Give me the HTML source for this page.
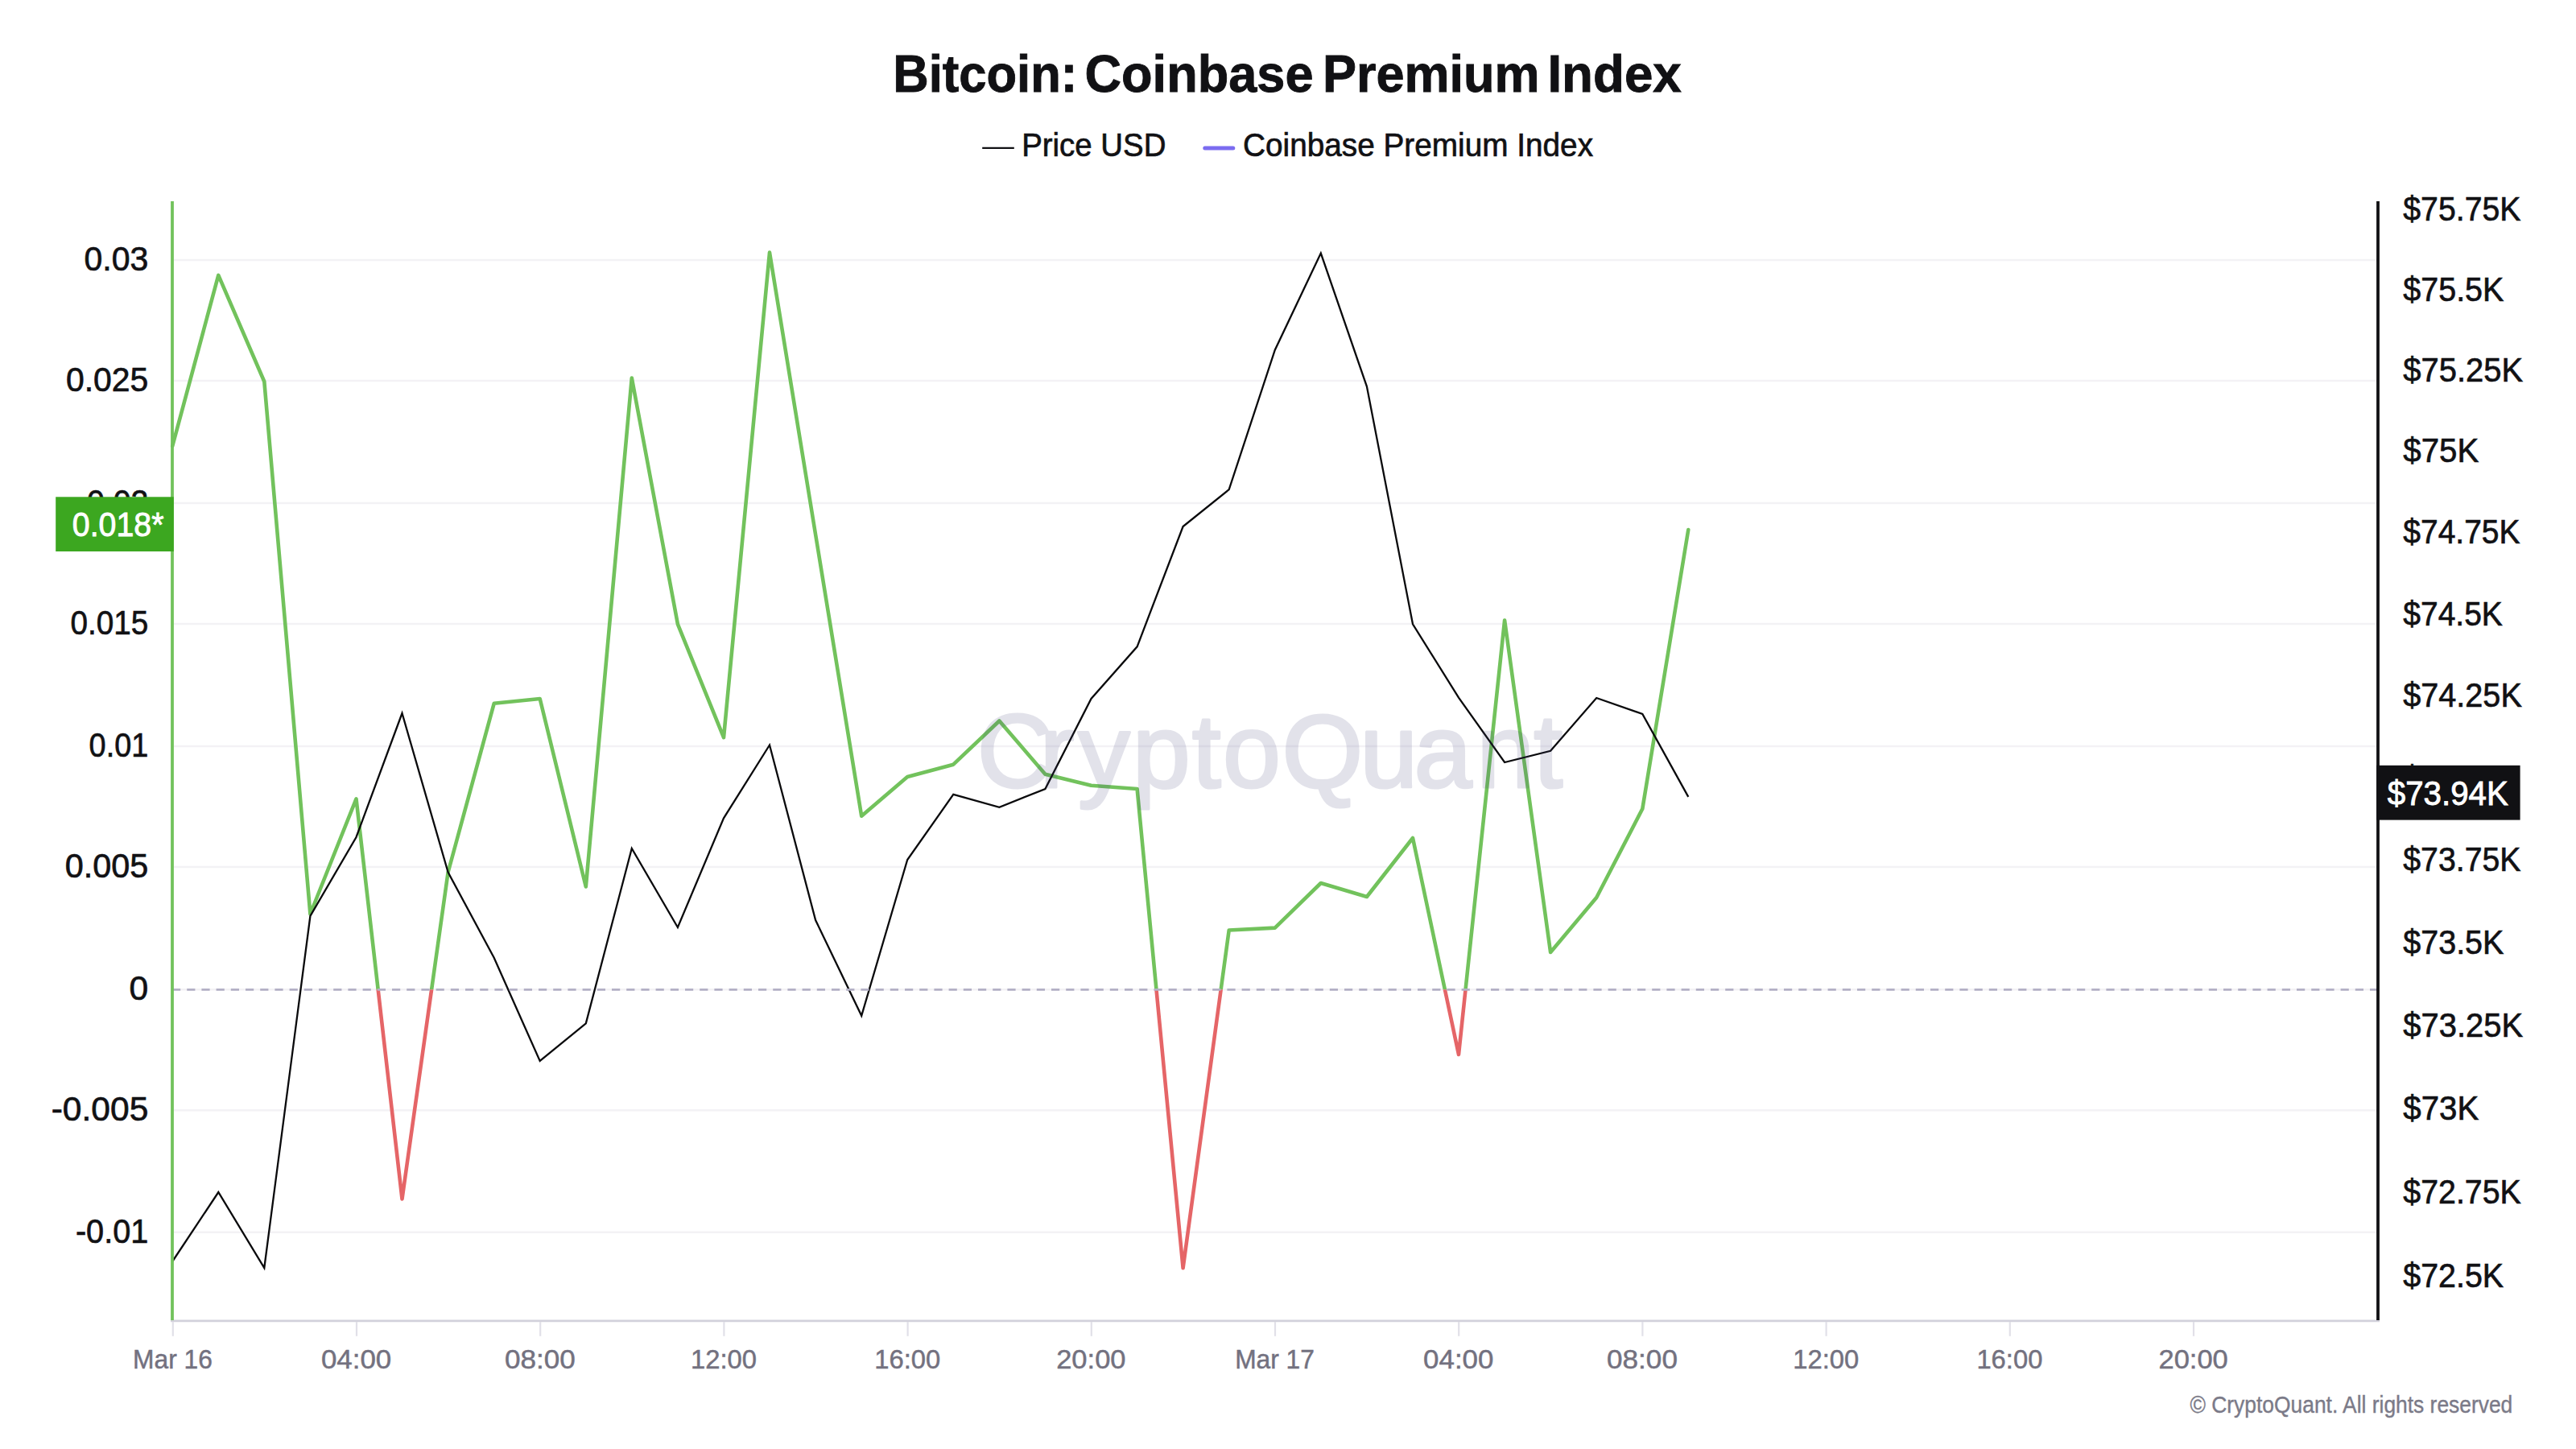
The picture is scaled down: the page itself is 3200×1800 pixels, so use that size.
<!DOCTYPE html>
<html lang="en"><head><meta charset="utf-8"><title>Bitcoin: Coinbase Premium Index</title>
<style>
html,body{margin:0;padding:0;background:#fff;}
body{width:3200px;height:1800px;overflow:hidden;font-family:"Liberation Sans",Arial,sans-serif;}
svg{display:block}
text{font-family:"Liberation Sans",Arial,sans-serif;}
</style></head><body>
<svg width="3200" height="1800" viewBox="0 0 3200 1800">
<rect width="3200" height="1800" fill="#ffffff"/>
<defs>
<clipPath id="above"><rect x="0" y="0" width="3200" height="1229.2"/></clipPath>
<clipPath id="below"><rect x="0" y="1229.2" width="3200" height="600"/></clipPath>
</defs>
<line x1="216" x2="2952" y1="323.0" y2="323.0" stroke="#f3f2f5" stroke-width="2.5"/>
<line x1="216" x2="2952" y1="473.0" y2="473.0" stroke="#f3f2f5" stroke-width="2.5"/>
<line x1="216" x2="2952" y1="625.0" y2="625.0" stroke="#f3f2f5" stroke-width="2.5"/>
<line x1="216" x2="2952" y1="775.0" y2="775.0" stroke="#f3f2f5" stroke-width="2.5"/>
<line x1="216" x2="2952" y1="927.0" y2="927.0" stroke="#f3f2f5" stroke-width="2.5"/>
<line x1="216" x2="2952" y1="1077.0" y2="1077.0" stroke="#f3f2f5" stroke-width="2.5"/>
<line x1="216" x2="2952" y1="1229.2" y2="1229.2" stroke="#f3f2f5" stroke-width="2.5"/>
<line x1="216" x2="2952" y1="1379.2" y2="1379.2" stroke="#f3f2f5" stroke-width="2.5"/>
<line x1="216" x2="2952" y1="1530.8" y2="1530.8" stroke="#f3f2f5" stroke-width="2.5"/>
<text y="113.9" font-size="64.9" fill="#111114" font-weight="bold" stroke="#111114" stroke-width="0.9"><tspan x="1109.3" textLength="228.9" lengthAdjust="spacingAndGlyphs">Bitcoin:</tspan> <tspan x="1347.5" textLength="284.0" lengthAdjust="spacingAndGlyphs">Coinbase</tspan> <tspan x="1642.9" textLength="269.7" lengthAdjust="spacingAndGlyphs">Premium</tspan> <tspan x="1922.4" textLength="166.4" lengthAdjust="spacingAndGlyphs">Index</tspan></text>
<line x1="1220.2" x2="1259.8" y1="183.9" y2="183.9" stroke="#111114" stroke-width="2.4"/>
<text x="1269.2" y="193.9" font-size="41.2" fill="#111114" text-anchor="start" font-weight="normal" textLength="179.2" lengthAdjust="spacingAndGlyphs" stroke="#111114" stroke-width="0.7">Price USD</text>
<line x1="1496.8" x2="1531.8" y1="183.9" y2="183.9" stroke="#7b6cf0" stroke-width="5" stroke-linecap="round"/>
<text x="1544" y="193.9" font-size="41.2" fill="#111114" text-anchor="start" font-weight="normal" textLength="435" lengthAdjust="spacingAndGlyphs" stroke="#111114" stroke-width="0.7">Coinbase Premium Index</text>
<text x="104.5" y="336.2" font-size="42.2" fill="#111114" text-anchor="start" font-weight="normal" textLength="79.8" lengthAdjust="spacingAndGlyphs" stroke="#111114" stroke-width="0.7">0.03</text>
<text x="81.9" y="486.2" font-size="42.2" fill="#111114" text-anchor="start" font-weight="normal" textLength="102.4" lengthAdjust="spacingAndGlyphs" stroke="#111114" stroke-width="0.7">0.025</text>
<text x="107.9" y="638.1" font-size="42.2" fill="#111114" text-anchor="start" font-weight="normal" textLength="76.4" lengthAdjust="spacingAndGlyphs" stroke="#111114" stroke-width="0.7">0.02</text>
<text x="87.5" y="788.1" font-size="42.2" fill="#111114" text-anchor="start" font-weight="normal" textLength="96.8" lengthAdjust="spacingAndGlyphs" stroke="#111114" stroke-width="0.7">0.015</text>
<text x="110.6" y="940.1" font-size="42.2" fill="#111114" text-anchor="start" font-weight="normal" textLength="73.7" lengthAdjust="spacingAndGlyphs" stroke="#111114" stroke-width="0.7">0.01</text>
<text x="80.8" y="1090.1" font-size="42.2" fill="#111114" text-anchor="start" font-weight="normal" textLength="103.5" lengthAdjust="spacingAndGlyphs" stroke="#111114" stroke-width="0.7">0.005</text>
<text x="160.6" y="1242.3" font-size="42.2" fill="#111114" text-anchor="start" font-weight="normal" textLength="23.7" lengthAdjust="spacingAndGlyphs" stroke="#111114" stroke-width="0.7">0</text>
<text x="63.7" y="1392.3" font-size="42.2" fill="#111114" text-anchor="start" font-weight="normal" textLength="120.6" lengthAdjust="spacingAndGlyphs" stroke="#111114" stroke-width="0.7">-0.005</text>
<text x="93.9" y="1543.9" font-size="42.2" fill="#111114" text-anchor="start" font-weight="normal" textLength="90.4" lengthAdjust="spacingAndGlyphs" stroke="#111114" stroke-width="0.7">-0.01</text>
<text x="2985.3" y="273.8" font-size="42.2" fill="#111114" text-anchor="start" font-weight="normal" textLength="146.2" lengthAdjust="spacingAndGlyphs" stroke="#111114" stroke-width="0.7">$75.75K</text>
<text x="2985.3" y="373.6" font-size="42.2" fill="#111114" text-anchor="start" font-weight="normal" textLength="125.1" lengthAdjust="spacingAndGlyphs" stroke="#111114" stroke-width="0.7">$75.5K</text>
<text x="2985.3" y="473.9" font-size="42.2" fill="#111114" text-anchor="start" font-weight="normal" textLength="148.8" lengthAdjust="spacingAndGlyphs" stroke="#111114" stroke-width="0.7">$75.25K</text>
<text x="2985.3" y="574.4" font-size="42.2" fill="#111114" text-anchor="start" font-weight="normal" textLength="93.9" lengthAdjust="spacingAndGlyphs" stroke="#111114" stroke-width="0.7">$75K</text>
<text x="2985.3" y="675.3" font-size="42.2" fill="#111114" text-anchor="start" font-weight="normal" textLength="145.2" lengthAdjust="spacingAndGlyphs" stroke="#111114" stroke-width="0.7">$74.75K</text>
<text x="2985.3" y="776.5" font-size="42.2" fill="#111114" text-anchor="start" font-weight="normal" textLength="123.5" lengthAdjust="spacingAndGlyphs" stroke="#111114" stroke-width="0.7">$74.5K</text>
<text x="2985.3" y="878.1" font-size="42.2" fill="#111114" text-anchor="start" font-weight="normal" textLength="147.5" lengthAdjust="spacingAndGlyphs" stroke="#111114" stroke-width="0.7">$74.25K</text>
<text x="2985.3" y="980.9" font-size="42.2" fill="#111114" text-anchor="start" font-weight="normal" textLength="92.6" lengthAdjust="spacingAndGlyphs" stroke="#111114" stroke-width="0.7">$74K</text>
<text x="2985.3" y="1082.2" font-size="42.2" fill="#111114" text-anchor="start" font-weight="normal" textLength="146.2" lengthAdjust="spacingAndGlyphs" stroke="#111114" stroke-width="0.7">$73.75K</text>
<text x="2985.3" y="1184.8" font-size="42.2" fill="#111114" text-anchor="start" font-weight="normal" textLength="125.1" lengthAdjust="spacingAndGlyphs" stroke="#111114" stroke-width="0.7">$73.5K</text>
<text x="2985.3" y="1287.8" font-size="42.2" fill="#111114" text-anchor="start" font-weight="normal" textLength="148.8" lengthAdjust="spacingAndGlyphs" stroke="#111114" stroke-width="0.7">$73.25K</text>
<text x="2985.3" y="1391.1" font-size="42.2" fill="#111114" text-anchor="start" font-weight="normal" textLength="93.9" lengthAdjust="spacingAndGlyphs" stroke="#111114" stroke-width="0.7">$73K</text>
<text x="2985.3" y="1494.7" font-size="42.2" fill="#111114" text-anchor="start" font-weight="normal" textLength="146.5" lengthAdjust="spacingAndGlyphs" stroke="#111114" stroke-width="0.7">$72.75K</text>
<text x="2985.3" y="1598.7" font-size="42.2" fill="#111114" text-anchor="start" font-weight="normal" textLength="124.8" lengthAdjust="spacingAndGlyphs" stroke="#111114" stroke-width="0.7">$72.5K</text>
<line x1="212" x2="2956" y1="1640.9" y2="1640.9" stroke="#d2d1db" stroke-width="2.6"/>
<line x1="214.8" x2="214.8" y1="1642" y2="1659.8" stroke="#e1e0e8" stroke-width="2.2"/>
<text x="165.1" y="1700.2" font-size="33.4" fill="#73717f" text-anchor="start" font-weight="normal" textLength="98.7" lengthAdjust="spacingAndGlyphs" stroke="#73717f" stroke-width="0.5">Mar 16</text>
<line x1="443.0" x2="443.0" y1="1642" y2="1659.8" stroke="#e1e0e8" stroke-width="2.2"/>
<text x="398.9" y="1700.2" font-size="33.4" fill="#73717f" text-anchor="start" font-weight="normal" textLength="87.3" lengthAdjust="spacingAndGlyphs" stroke="#73717f" stroke-width="0.5">04:00</text>
<line x1="671.2" x2="671.2" y1="1642" y2="1659.8" stroke="#e1e0e8" stroke-width="2.2"/>
<text x="626.9" y="1700.2" font-size="33.4" fill="#73717f" text-anchor="start" font-weight="normal" textLength="87.8" lengthAdjust="spacingAndGlyphs" stroke="#73717f" stroke-width="0.5">08:00</text>
<line x1="899.4" x2="899.4" y1="1642" y2="1659.8" stroke="#e1e0e8" stroke-width="2.2"/>
<text x="858.0" y="1700.2" font-size="33.4" fill="#73717f" text-anchor="start" font-weight="normal" textLength="82.0" lengthAdjust="spacingAndGlyphs" stroke="#73717f" stroke-width="0.5">12:00</text>
<line x1="1127.6" x2="1127.6" y1="1642" y2="1659.8" stroke="#e1e0e8" stroke-width="2.2"/>
<text x="1086.2" y="1700.2" font-size="33.4" fill="#73717f" text-anchor="start" font-weight="normal" textLength="82.0" lengthAdjust="spacingAndGlyphs" stroke="#73717f" stroke-width="0.5">16:00</text>
<line x1="1355.8" x2="1355.8" y1="1642" y2="1659.8" stroke="#e1e0e8" stroke-width="2.2"/>
<text x="1312.2" y="1700.2" font-size="33.4" fill="#73717f" text-anchor="start" font-weight="normal" textLength="86.3" lengthAdjust="spacingAndGlyphs" stroke="#73717f" stroke-width="0.5">20:00</text>
<line x1="1584.0" x2="1584.0" y1="1642" y2="1659.8" stroke="#e1e0e8" stroke-width="2.2"/>
<text x="1534.2" y="1700.2" font-size="33.4" fill="#73717f" text-anchor="start" font-weight="normal" textLength="98.7" lengthAdjust="spacingAndGlyphs" stroke="#73717f" stroke-width="0.5">Mar 17</text>
<line x1="1812.2" x2="1812.2" y1="1642" y2="1659.8" stroke="#e1e0e8" stroke-width="2.2"/>
<text x="1768.1" y="1700.2" font-size="33.4" fill="#73717f" text-anchor="start" font-weight="normal" textLength="87.3" lengthAdjust="spacingAndGlyphs" stroke="#73717f" stroke-width="0.5">04:00</text>
<line x1="2040.4" x2="2040.4" y1="1642" y2="1659.8" stroke="#e1e0e8" stroke-width="2.2"/>
<text x="1996.1" y="1700.2" font-size="33.4" fill="#73717f" text-anchor="start" font-weight="normal" textLength="87.8" lengthAdjust="spacingAndGlyphs" stroke="#73717f" stroke-width="0.5">08:00</text>
<line x1="2268.6" x2="2268.6" y1="1642" y2="1659.8" stroke="#e1e0e8" stroke-width="2.2"/>
<text x="2227.2" y="1700.2" font-size="33.4" fill="#73717f" text-anchor="start" font-weight="normal" textLength="82.0" lengthAdjust="spacingAndGlyphs" stroke="#73717f" stroke-width="0.5">12:00</text>
<line x1="2496.8" x2="2496.8" y1="1642" y2="1659.8" stroke="#e1e0e8" stroke-width="2.2"/>
<text x="2455.4" y="1700.2" font-size="33.4" fill="#73717f" text-anchor="start" font-weight="normal" textLength="82.0" lengthAdjust="spacingAndGlyphs" stroke="#73717f" stroke-width="0.5">16:00</text>
<line x1="2725.0" x2="2725.0" y1="1642" y2="1659.8" stroke="#e1e0e8" stroke-width="2.2"/>
<text x="2681.5" y="1700.2" font-size="33.4" fill="#73717f" text-anchor="start" font-weight="normal" textLength="86.3" lengthAdjust="spacingAndGlyphs" stroke="#73717f" stroke-width="0.5">20:00</text>
<polyline points="214.2,554.2 271.3,341.9 328.3,474.0 385.4,1135.5 442.5,992.3 499.5,1489.5 556.6,1083.5 613.7,873.8 670.7,868.0 727.8,1101.5 784.8,469.5 841.9,775.3 899.0,916.2 956.0,313.6 1013.1,664.0 1070.2,1013.7 1127.2,965.0 1184.3,949.7 1241.4,895.5 1298.4,961.7 1355.5,975.7 1412.6,980.0 1469.6,1575.2 1526.7,1155.5 1583.8,1152.6 1640.8,1097.0 1697.9,1114.0 1755.0,1041.0 1812.0,1310.0 1869.1,770.5 1926.1,1183.0 1983.2,1115.0 2040.3,1004.8 2097.3,658.0" fill="none" stroke="#72c25c" stroke-width="4.6" stroke-linejoin="round" stroke-linecap="round" clip-path="url(#above)"/>
<polyline points="214.2,554.2 271.3,341.9 328.3,474.0 385.4,1135.5 442.5,992.3 499.5,1489.5 556.6,1083.5 613.7,873.8 670.7,868.0 727.8,1101.5 784.8,469.5 841.9,775.3 899.0,916.2 956.0,313.6 1013.1,664.0 1070.2,1013.7 1127.2,965.0 1184.3,949.7 1241.4,895.5 1298.4,961.7 1355.5,975.7 1412.6,980.0 1469.6,1575.2 1526.7,1155.5 1583.8,1152.6 1640.8,1097.0 1697.9,1114.0 1755.0,1041.0 1812.0,1310.0 1869.1,770.5 1926.1,1183.0 1983.2,1115.0 2040.3,1004.8 2097.3,658.0" fill="none" stroke="#e56567" stroke-width="4.6" stroke-linejoin="round" stroke-linecap="round" clip-path="url(#below)"/>
<polyline points="214.2,1567.0 271.3,1481.0 328.3,1575.0 385.4,1138.0 442.5,1040.0 499.5,886.0 556.6,1083.5 613.7,1189.8 670.7,1318.0 727.8,1271.4 784.8,1054.0 841.9,1152.0 899.0,1016.3 956.0,925.5 1013.1,1143.0 1070.2,1261.7 1127.2,1068.0 1184.3,986.9 1241.4,1002.8 1298.4,980.0 1355.5,868.0 1412.6,803.3 1469.6,654.0 1526.7,608.1 1583.8,434.7 1640.8,314.5 1697.9,480.0 1755.0,775.3 1812.0,866.6 1869.1,947.0 1926.1,932.8 1983.2,867.0 2040.3,887.0 2097.3,989.9" fill="none" stroke="#0a0a0c" stroke-width="2.3" stroke-linejoin="miter" stroke-linecap="butt"/>
<line x1="214" x2="2954" y1="1229.3" y2="1229.3" stroke="#b3b0c5" stroke-width="2.7" stroke-dasharray="10.2 8"/>
<text x="1213.8 1291.5 1339 1406.7 1480.8 1519.1 1592.5 1689.2 1756.6 1834.2 1905.2" y="977.6" font-size="129.5" fill="#44447a" stroke="#44447a" stroke-width="3.2" stroke-linejoin="round" opacity="0.15">CryptoQuant</text>
<line x1="214" x2="214" y1="250" y2="1640" stroke="#72c25c" stroke-width="3.8"/>
<line x1="2954" x2="2954" y1="250" y2="1640" stroke="#111114" stroke-width="3.8"/>
<rect x="69.2" y="617.3" width="146.6" height="67.7" fill="#3ca720"/>
<text x="89.8" y="666.3" font-size="42.2" fill="#ffffff" text-anchor="start" font-weight="normal" textLength="113.7" lengthAdjust="spacingAndGlyphs" stroke="#ffffff" stroke-width="0.9">0.018*</text>
<rect x="2952.2" y="950.8" width="178.4" height="67.8" fill="#111114"/>
<text x="2965.8" y="999.5" font-size="42.2" fill="#ffffff" text-anchor="start" font-weight="normal" textLength="150" lengthAdjust="spacingAndGlyphs" stroke="#ffffff" stroke-width="0.9">$73.94K</text>
<text x="2720.5" y="1755.4" font-size="29.3" fill="#7b7a88" text-anchor="start" font-weight="normal" textLength="400.8" lengthAdjust="spacingAndGlyphs" stroke="#7b7a88" stroke-width="0.4">© CryptoQuant. All rights reserved</text>
</svg></body></html>
